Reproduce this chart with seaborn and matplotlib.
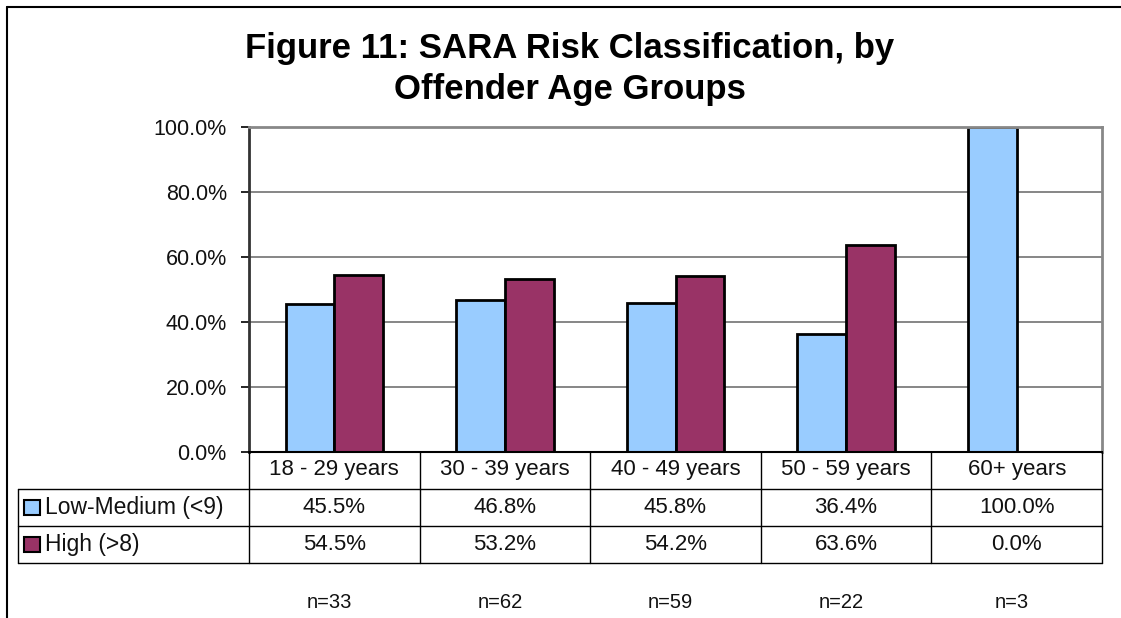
import numpy as np
import pandas as pd
import seaborn as sns
import matplotlib.pyplot as plt
from matplotlib.lines import Line2D
from matplotlib.patches import Rectangle
from matplotlib.ticker import PercentFormatter

# data
age_groups = ["18 - 29 years", "30 - 39 years", "40 - 49 years", "50 - 59 years", "60+ years"]
low_medium = [45.5, 46.8, 45.8, 36.4, 100.0]
high = [54.5, 53.2, 54.2, 63.6, 0.0]
series_names = ["Low-Medium (<9)", "High (>8)"]
n_counts = [33, 62, 59, 22, 3]
colors = ["#99CCFF", "#993366"]

df = pd.DataFrame({
    "age": age_groups * 2,
    "risk": [series_names[0]] * len(age_groups) + [series_names[1]] * len(age_groups),
    "pct": low_medium + high,
})

W, H = 1121, 618
sns.set_theme(style="white")
plt.rcParams["font.family"] = ["Liberation Sans", "DejaVu Sans"]


def fx(x):
    return x / W


def fy(y):
    return 1 - y / H


fig = plt.figure(figsize=(W / 100, H / 100), dpi=100)
fig.patch.set_facecolor("white")

# plot area in pixels
left, right, top, bottom = 249, 1102, 127, 452
ax = fig.add_axes([fx(left), fy(bottom), fx(right - left), (bottom - top) / H])

sns.barplot(data=df, x="age", y="pct", hue="risk", palette=colors, saturation=1,
            edgecolor="black", linewidth=2, width=0.57, legend=False, ax=ax)

ax.set_ylim(0, 100)
ax.set_xlim(-0.5, len(age_groups) - 0.5)
ax.set_yticks(np.arange(0, 101, 20))
ax.yaxis.set_major_formatter(PercentFormatter(decimals=1))
ax.set_xticks([])
ax.set_xlabel("")
ax.set_ylabel("")
ax.yaxis.grid(True, color="#666666", linewidth=1.1)
ax.set_axisbelow(True)
ax.tick_params(axis="y", length=6, width=1.2, color="black", pad=10,
               labelsize=15.5, left=True)
for t in ax.get_yticklabels():
    t.set_color("#111111")

for side in ["top", "right"]:
    ax.spines[side].set_color("#888888")
    ax.spines[side].set_linewidth(2)
ax.spines["left"].set_color("#333333")
ax.spines["left"].set_linewidth(2)
ax.spines["bottom"].set_color("black")
ax.spines["bottom"].set_linewidth(1.5)

# title
fig.text(fx(570), fy(69), "Figure 11: SARA Risk Classification, by\nOffender Age Groups",
         ha="center", va="center", fontsize=25, fontweight="bold", linespacing=1.32,
         color="black")

# frame lines of the chart area
fig.add_artist(Line2D([fx(7), fx(1121)], [fy(7), fy(7)], color="black", lw=1.5))
fig.add_artist(Line2D([fx(7), fx(7)], [fy(7), fy(618)], color="black", lw=1.5))

# data table under the plot
row_y = [452, 489, 526, 563]
col_x = np.linspace(left, right, len(age_groups) + 1)
tab_left = 18
for y in row_y[1:]:
    fig.add_artist(Line2D([fx(tab_left), fx(right)], [fy(y), fy(y)], color="black", lw=1))
for x in col_x:
    fig.add_artist(Line2D([fx(x), fx(x)], [fy(row_y[0]), fy(row_y[-1])], color="black", lw=1))
fig.add_artist(Line2D([fx(tab_left), fx(tab_left)], [fy(row_y[1]), fy(row_y[-1])],
                      color="black", lw=1))

centers = (col_x[:-1] + col_x[1:]) / 2
text_kw = dict(ha="center", va="center", fontsize=16, color="#111111")
for cx, lab in zip(centers, age_groups):
    fig.text(fx(cx), fy(470), lab, **text_kw)
for r, vals in enumerate([low_medium, high]):
    yc = (row_y[r + 1] + row_y[r + 2]) / 2
    for cx, v in zip(centers, vals):
        fig.text(fx(cx), fy(yc), f"{v:.1f}%", **text_kw)
    fig.add_artist(Rectangle((fx(24), fy(yc + 7)), 16 / W, 15 / H,
                             facecolor=colors[r], edgecolor="black", lw=1.5))
    fig.text(fx(45), fy(yc), series_names[r], ha="left", va="center",
             fontsize=16.5, color="#111111")

# sample sizes
for cx, n in zip(centers, n_counts):
    fig.text(fx(cx - 5), fy(602), f"n={n}", ha="center", va="center",
             fontsize=14.5, color="#111111")

fig.savefig("out.png", dpi=100, facecolor="white")
